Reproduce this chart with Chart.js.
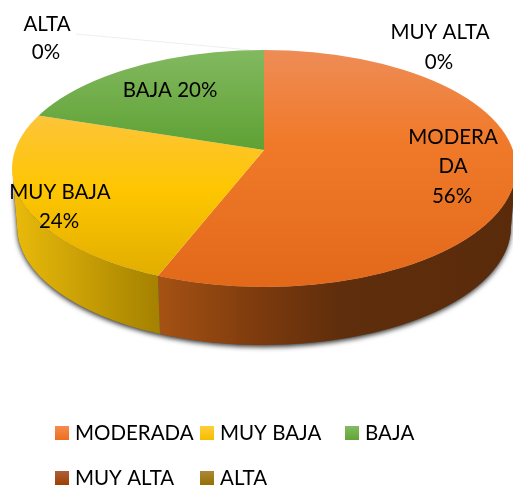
<!DOCTYPE html>
<html><head><meta charset="utf-8">
<style>html,body{margin:0;padding:0;background:#fff}canvas{display:block}</style>
<script src="https://cdn.jsdelivr.net/npm/chart.js@4"></script>
</head><body><canvas id="c" width="513" height="485"></canvas>
<script>
const categories = ['MODERADA','MUY BAJA','BAJA','MUY ALTA','ALTA'];
const values = [56,24,20,0,0];
const percentText = ['56%','24%','20%','0%','0%'];

// look
const FONT = '20.5px Lato, "Open Sans", sans-serif';
const APEX = {x:264, y:150};      // where the slices meet
const TOP = {cx:264, cy:168.5, rx:252, ry:118.5};
const BOT = {cx:264, cy:226.5, rx:247, ry:118.5};
const SQUASH = 0.47;
const W = 513, H = 485;
const C0 = {x:W/2, y:H/2};

const canvas = document.getElementById('c');
const g = canvas.getContext('2d');
const userY = y => C0.y + (y - APEX.y) / SQUASH;
function vGrad(stops){
  const ys = stops.map(s=>s[0]), a = ys[0], b = ys[ys.length-1];
  const gr = g.createLinearGradient(0,userY(a),0,userY(b));
  stops.forEach(s=>gr.addColorStop((s[0]-a)/(b-a),s[1]));
  return gr;
}
const faceFill = [
  vGrad([[50,'#EE8C56'],[140,'#F07A2A'],[287,'#E3691A']]),
  vGrad([[113,'#FDC43C'],[190,'#FEC600'],[275,'#E2AE00']]),
  vGrad([[50,'#82B960'],[150,'#5EA133']]),
  '#9E4A10','#957000'
];
const wallStops = [
  [[158,'#A65214'],[260,'#7C3A0D'],[340,'#5F2E0C'],[512,'#5A2B0B']],
  [[17,'#E8B90A'],[157,'#A58200']],
  [[17,'#4E7A2A'],[264,'#4E7A2A']],
  [[17,'#9E4A10'],[512,'#9E4A10']],
  [[17,'#957000'],[512,'#957000']]
];
const legendStops = [
  ['#F58D4E','#EE6E1E'],['#FFCF3A','#F5BD00'],['#82BC60','#62A436'],
  ['#AD5F3C','#9E3F00'],['#AC873C','#957000']
];

function wallParam(angle){
  // ray from the apex through the squashed angle, meeting the rim ellipse
  const dx = Math.cos(angle), dy = SQUASH*Math.sin(angle);
  const ox = (APEX.x-TOP.cx)/TOP.rx, oy = (APEX.y-TOP.cy)/TOP.ry;
  const ux = dx/TOP.rx, uy = dy/TOP.ry;
  const A = ux*ux+uy*uy, B = 2*(ox*ux+oy*uy), C = ox*ox+oy*oy-1;
  const r = (-B+Math.sqrt(B*B-4*A*C))/(2*A);
  let t = Math.atan2(oy+uy*r, ox+ux*r);
  if (t < -Math.PI/2-1e-6) t += 2*Math.PI;
  return t;
}
function wallPath(ctx,lo,hi){
  ctx.beginPath();
  ctx.ellipse(TOP.cx,TOP.cy,TOP.rx,TOP.ry,0,lo,hi,false);
  ctx.ellipse(BOT.cx,BOT.cy,BOT.rx,BOT.ry,0,hi,lo,true);
  ctx.closePath();
}
const pie3d = {
  id:'pie3d',
  beforeDatasetsDraw(chart){
    const ctx = chart.ctx;
    // faint leader line of the ALTA label
    ctx.save();
    ctx.strokeStyle='#EEEEEE'; ctx.lineWidth=1;
    ctx.beginPath(); ctx.moveTo(76,34); ctx.lineTo(250,50); ctx.stroke();
    ctx.restore();
    // cast shadow
    ctx.save();
    ctx.shadowColor='rgba(0,0,0,0.8)'; ctx.shadowBlur=5; ctx.shadowOffsetY=2;
    ctx.fillStyle='#555';
    wallPath(ctx,0,Math.PI); ctx.fill();
    ctx.restore();
    // side wall from the slice angles
    chart.getDatasetMeta(0).data.forEach((arc,i)=>{
      const p = arc.getProps(['startAngle','endAngle']);
      if (p.endAngle-p.startAngle < 1e-6) return;
      const t1 = wallParam(p.startAngle);
      let t2 = wallParam(p.endAngle);
      if (t2 <= t1) t2 += 2*Math.PI;
      const lo = Math.max(t1,0), hi = Math.min(t2,Math.PI);
      if (hi <= lo) return;
      const st = wallStops[i], a = st[0][0], b = st[st.length-1][0];
      const gr = ctx.createLinearGradient(a,0,b,0);
      st.forEach(s=>gr.addColorStop((s[0]-a)/(b-a),s[1]));
      ctx.fillStyle = gr;
      wallPath(ctx,lo,hi); ctx.fill();
    });
    // top face: library arcs, squashed about the apex and trimmed by the rim
    ctx.save();
    ctx.beginPath();
    ctx.ellipse(TOP.cx,TOP.cy,TOP.rx,TOP.ry,0,0,2*Math.PI);
    ctx.clip();
    ctx.translate(APEX.x,APEX.y);
    ctx.scale(1,SQUASH);
    ctx.translate(-C0.x,-C0.y);
  },
  afterDatasetsDraw(chart){
    const ctx = chart.ctx;
    ctx.restore();
    ctx.save();
    ctx.font = FONT; ctx.fillStyle='#000'; ctx.textBaseline='middle'; ctx.textAlign='center';
    const labelLines = [
      [['MODERA',453,137],['DA',453,166],[percentText[0],452,196]],
      [[categories[1],60,192],[percentText[1],59,221]],
      [[categories[2]+' '+percentText[2],170,90]],
      [[categories[3],440,32],[percentText[3],439,62]],
      [[categories[4],47,24],[percentText[4],46,52]]
    ];
    labelLines.forEach(ls=>ls.forEach(l=>ctx.fillText(l[0],l[1],l[2])));
    // legend
    const slots = [[55,426],[200,426],[345,426],[55,471],[200,471]];
    ctx.textAlign='left';
    categories.forEach((name,i)=>{
      const [x,y] = slots[i];
      const gr = ctx.createLinearGradient(0,y,0,y+14);
      gr.addColorStop(0,legendStops[i][0]); gr.addColorStop(1,legendStops[i][1]);
      ctx.fillStyle = gr; ctx.fillRect(x,y,14,14);
      ctx.fillStyle='#000'; ctx.fillText(name,x+20,y+7.5);
    });
    ctx.restore();
  }
};
new Chart(canvas,{
  type:'pie',
  data:{labels:categories,datasets:[{data:values,backgroundColor:faceFill,borderWidth:0,radius:340,clip:false}]},
  options:{responsive:false,animation:false,layout:{padding:0},
    plugins:{legend:{display:false},tooltip:{enabled:false}}},
  plugins:[pie3d]
});
</script></body></html>
